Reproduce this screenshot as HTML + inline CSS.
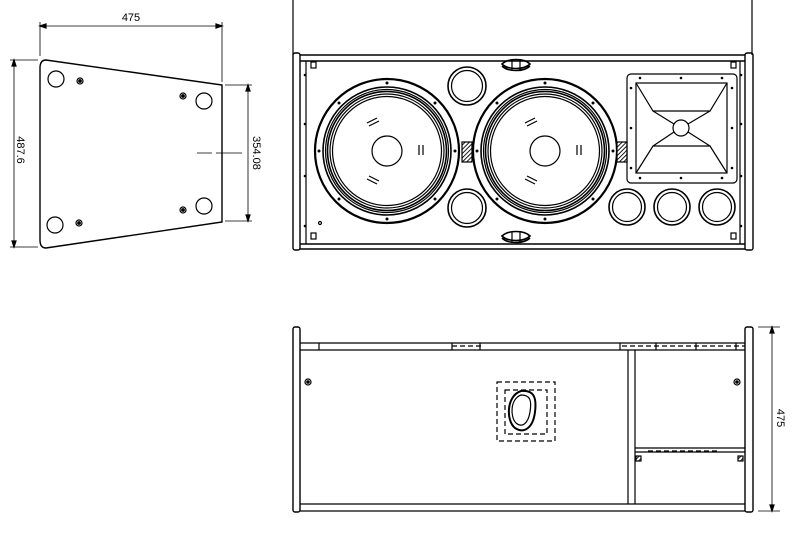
<!DOCTYPE html>
<html><head><style>html,body{margin:0;padding:0;background:#fff}svg{display:block}</style></head>
<body>
<svg width="800" height="535" viewBox="0 0 800 535" xmlns="http://www.w3.org/2000/svg" font-family="Liberation Sans, sans-serif" fill="none" stroke="#000" stroke-width="1.2">
<defs>
<pattern id="h" width="3" height="3" patternUnits="userSpaceOnUse" patternTransform="rotate(45)"><rect width="3" height="3" fill="#fff" stroke="none"/><line x1="0" y1="0" x2="0" y2="3" stroke="#000" stroke-width="1.8"/></pattern>
<g id="woof">
<circle r="72" stroke-width="2.2"/>
<circle r="64" stroke-width="1.6"/><circle r="61.5"/><circle r="59.5" stroke-width="1.6"/><circle r="57"/><circle r="54.5"/>
<circle r="15"/>
<g fill="#000" stroke="none">
<circle cx="0" cy="-68" r="1.5"/><circle cx="0" cy="68" r="1.5"/><circle cx="-68" cy="0" r="1.5"/><circle cx="68" cy="0" r="1.5"/>
<circle cx="-48" cy="-48" r="1.5"/><circle cx="48" cy="-48" r="1.5"/><circle cx="-48" cy="48" r="1.5"/><circle cx="48" cy="48" r="1.5"/></g>
<path d="M-20,-28 l10,-5 M-18,-25 l10,-5 M-20,28 l10,5 M-18,25 l10,5 M32,-6 v10 M36,-6 v10"/>
</g>
<g id="port"><circle r="19" stroke-width="1.6"/><circle r="15.5"/></g>
<g id="sport"><circle r="18" stroke-width="1.6"/><circle r="14.5"/></g>
</defs>

<!-- side view -->
<path d="M46,60 L222,85 L222,222 L46,248 Q40,248 40,240 L40,68 Q40,60 46,60 Z" stroke-width="1.4"/>
<circle cx="56" cy="79" r="8"/><circle cx="204" cy="101" r="8"/><circle cx="204" cy="206" r="8"/><circle cx="55" cy="225" r="8"/>
<g><circle cx="80" cy="81" r="3"/><circle cx="80" cy="81" r="1.3" fill="#000"/>
<circle cx="183" cy="96" r="3"/><circle cx="183" cy="96" r="1.3" fill="#000"/>
<circle cx="183" cy="210" r="3"/><circle cx="183" cy="210" r="1.3" fill="#000"/>
<circle cx="79" cy="223" r="3"/><circle cx="79" cy="223" r="1.3" fill="#000"/></g>
<path d="M40,22 V56 M222,22 V82 M40,26 H222" stroke-width="0.8"/>
<path d="M40,26 l6,-2 v4 z M222,26 l-6,-2 v4 z" fill="#000"/>
<text x="131" y="21" font-size="11" fill="#000" stroke="none" text-anchor="middle">475</text>
<path d="M10,60 H38 M10,247 H38 M14,60 V247 M225,85 H252 M225,221 H252 M248,85 V221" stroke-width="0.8"/>
<path d="M14,60 l-2,6 h4 z M14,247 l-2,-6 h4 z M248,85 l-2,6 h4 z M248,221 l-2,-6 h4 z" fill="#000"/>
<path d="M197,153 H212 M216,153 H242" stroke-width="0.8"/>
<text transform="translate(17,150) rotate(90)" font-size="11" fill="#000" stroke="none" text-anchor="middle">487.6</text>
<text transform="translate(253,153) rotate(90)" font-size="11" fill="#000" stroke="none" text-anchor="middle">354.08</text>

<!-- front view -->
<path d="M293,0 V55 M752,0 V55"/>
<rect x="293" y="53" width="7" height="197" rx="2" stroke-width="1.4"/>
<rect x="745" y="53" width="8" height="197" rx="2" stroke-width="1.4"/>
<path d="M300,55 H745 M300,61 H745 M300,244 H745 M300,249 H745" stroke-width="1.4"/>
<path d="M306,61 V244 M740,61 V244"/>
<rect x="311" y="62" width="5" height="6"/><rect x="731" y="62" width="5" height="6"/>
<rect x="311" y="233" width="5" height="6"/><rect x="731" y="233" width="5" height="6"/>
<g fill="#000" stroke="none"><circle cx="305" cy="75" r="1.3"/><circle cx="305" cy="124" r="1.3"/><circle cx="305" cy="176" r="1.3"/><circle cx="305" cy="226" r="1.3"/>
<circle cx="741" cy="75" r="1.3"/><circle cx="741" cy="124" r="1.3"/><circle cx="741" cy="176" r="1.3"/><circle cx="741" cy="226" r="1.3"/></g>
<circle cx="320" cy="223" r="1.5"/>
<use href="#woof" x="387" y="151"/>
<use href="#woof" x="545" y="151"/>
<use href="#port" x="467" y="86"/>
<use href="#port" x="467" y="208"/>
<rect x="462" y="142" width="10" height="20" fill="url(#h)"/>
<rect x="617" y="142" width="10" height="20" fill="url(#h)"/>
<path d="M502,64 C508,58 524,58 530,64 C524,70 508,70 502,64 Z M502,66 C508,72 524,72 530,66" stroke-width="1.6"/><path d="M512,60 v10 M520,60 v10"/>
<path d="M502,236 C508,230 524,230 530,236 C524,242 508,242 502,236 Z M502,238 C508,244 524,244 530,238" stroke-width="1.6"/><path d="M512,232 v10 M520,232 v10"/>
<!-- horn -->
<rect x="627" y="74" width="110" height="109" rx="4"/>
<rect x="636" y="83" width="91" height="90"/>
<circle cx="681" cy="128" r="8"/>
<path d="M636,83 L653,111 H710 L727,83 M636,173 L653,146 H710 L727,173 M653,111 L674,124 M710,111 L688,124 M653,146 L674,132 M710,146 L688,132"/>
<g fill="#000" stroke="none"><circle cx="640" cy="78" r="1.3"/><circle cx="681" cy="78" r="1.3"/><circle cx="722" cy="78" r="1.3"/>
<circle cx="640" cy="178" r="1.3"/><circle cx="681" cy="178" r="1.3"/><circle cx="722" cy="178" r="1.3"/>
<circle cx="631" cy="88" r="1.3"/><circle cx="631" cy="128" r="1.3"/><circle cx="631" cy="168" r="1.3"/>
<circle cx="732" cy="88" r="1.3"/><circle cx="732" cy="128" r="1.3"/><circle cx="732" cy="168" r="1.3"/></g>
<use href="#sport" x="627" y="207"/>
<use href="#sport" x="672" y="207"/>
<use href="#sport" x="717" y="207"/>

<!-- bottom view -->
<rect x="293" y="327" width="7" height="185" rx="2" stroke-width="1.4"/>
<rect x="745" y="327" width="8" height="185" rx="2" stroke-width="1.4"/>
<path d="M300,343 H745 M300,350 H745 M300,504 H745 M300,511 H745" stroke-width="1.3"/>
<path d="M319,343 V350 M620,343 V350 M628,350 V504 M635,350 V504 M635,448 H745 M635,452 H745"/>
<path d="M452,346 H484 M622,346 H745 M648,451 H720" stroke-dasharray="5,3"/>
<path d="M452,343 v7 M480,343 v7 M656,343 v7 M696,343 v7 M736,343 v7"/>
<rect x="636" y="456" width="5" height="5" fill="url(#h)"/><rect x="738" y="456" width="5" height="5" fill="url(#h)"/>
<circle cx="308" cy="382" r="3"/><circle cx="308" cy="382" r="1.2" fill="#000"/>
<circle cx="737" cy="382" r="3"/><circle cx="737" cy="382" r="1.2" fill="#000"/>
<rect x="497" y="382" width="58" height="59" stroke-dasharray="5,3"/>
<rect x="505" y="390" width="42" height="44" stroke-dasharray="5,3"/>
<path d="M521,391 C533,390 537,396 535,412 C533,428 524,434 515,428 C506,421 506,396 521,391 Z" stroke-width="2"/>
<path d="M521,395 C530,395 532,400 530,412 C528,424 522,428 516,423 C510,417 510,399 521,395 Z"/>
<path d="M758,327 H780 M758,511 H780 M772,327 V511" stroke-width="0.8"/>
<path d="M772,327 l-2,6 h4 z M772,511 l-2,-6 h4 z" fill="#000"/>
<text transform="translate(777,418) rotate(90)" font-size="11" fill="#000" stroke="none" text-anchor="middle">475</text>
</svg>
</body></html>
